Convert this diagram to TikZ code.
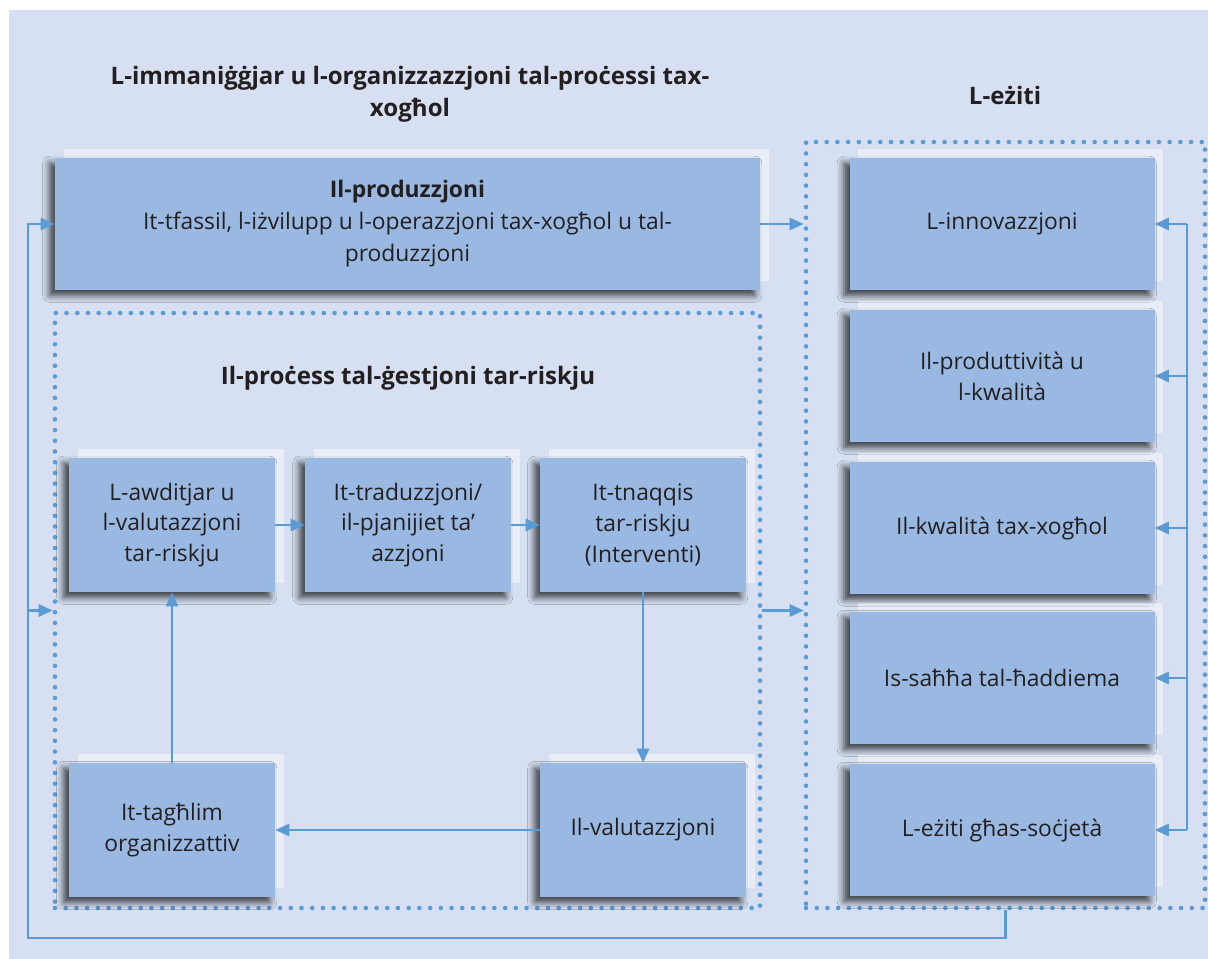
\documentclass[tikz,border=0pt]{standalone}
\usepackage{fontspec}
\setmainfont{Open Sans}
\usetikzlibrary{arrows.meta, shadows, shadows.blur}

\definecolor{panelbg}{RGB}{214,224,242}
\definecolor{boxfill}{RGB}{154,185,226}
\definecolor{linkblue}{RGB}{91,155,213}
\definecolor{inkgray}{RGB}{35,31,32}
\newlength\unitpx
\setlength\unitpx{0.02cm}

\tikzset{
  stage/.style={fill=boxfill, text=inkgray, align=center, inner sep=0pt,
    font=\fontsize{13}{17.5}\selectfont,
    drop shadow={fill=white, opacity=0.45, shadow xshift=5pt, shadow yshift=5pt},
    blur shadow={shadow xshift=-3pt, shadow yshift=-3pt, shadow blur radius=4pt, shadow opacity=75}},
  small/.style={stage, minimum width=206*\unitpx, minimum height=134*\unitpx},
  wide/.style={stage, minimum width=305*\unitpx, minimum height=132*\unitpx},
  heading/.style={text=inkgray, align=center, font=\bfseries\fontsize{13.7}{18.2}\selectfont},
  dotframe/.style={draw=linkblue, line width=2.6pt, line cap=round, dash pattern=on 0pt off 6.1pt, inner sep=0pt},
  link/.style={draw=linkblue, line width=1.2pt, -{Triangle[length=8pt, width=7pt]}},
  linkline/.style={draw=linkblue, line width=1.2pt}
}

\begin{document}
\begin{tikzpicture}[x=0.02cm, y=-0.02cm]
	\useasboundingbox (0,0) rectangle (1208,959);
	\fill[panelbg] (9,10) rectangle (1208,959);

	\node[heading] (mgmt) at (410,94) {L-immaniġġjar u l-organizzazzjoni tal-proċessi tax-\\xogħol};
	\node[heading] (outc) at (1005,95) {L-eżiti};

	\node[dotframe, minimum width=705*\unitpx, minimum height=595*\unitpx] (riskframe) at (407.5,610.5) {};
	\node[dotframe, minimum width=399*\unitpx, minimum height=766*\unitpx] (eziti) at (1005.5,525) {};
	\node[heading] (risktitle) at (408,378) {Il-proċess tal-ġestjoni tar-riskju};

	\node[stage, minimum width=705*\unitpx, minimum height=132*\unitpx, font=\fontsize{13}{18.2}\selectfont] (prod) at (407.5,224)
		{\textbf{Il-produzzjoni}\\It-tfassil, l-iżvilupp u l-operazzjoni tax-xogħol u tal-\\produzzjoni};

	\node[small] (audit) at (172,525) {L-awditjar u\\l-valutazzjoni\\tar-riskju};
	\node[small] (trad) at (408,525) {It-traduzzjoni/\\il-pjanijiet ta’\\azzjoni};
	\node[small] (tnaq) at (643,525) {It-tnaqqis\\tar-riskju\\(Interventi)};
	\node[small] (tagh) at (172,830) {It-tagħlim\\organizzattiv};
	\node[small] (valut) at (643,830) {Il-valutazzjoni};

	\node[wide] (inno) at (1002,224) {L-innovazzjoni};
	\node[wide] (prodq) at (1002,376) {Il-produttività u\\l-kwalità};
	\node[wide] (kwal) at (1002,528) {Il-kwalità tax-xogħol};
	\node[wide] (sahha) at (1002,678) {Is-saħħa tal-ħaddiema};
	\node[wide] (soc) at (1002,830) {L-eżiti għas-soċjetà};

	\draw[link] (audit) -- (trad);
	\draw[link] (trad) -- (tnaq);
	\draw[link] (tnaq) -- (valut);
	\draw[link] (valut) -- (tagh);
	\draw[link] (tagh) -- (audit);

	\draw[link] (prod.east) -- (prod.east -| eziti.west);
	\draw[link] (riskframe.east) -- (riskframe.east -| eziti.west);

	\coordinate (fb) at (1187,0);
	\draw[linkline] (inno.east -| fb) -- (soc.east -| fb);
	\foreach \n in {inno, prodq, kwal, sahha, soc}
		\draw[link] (\n.east -| fb) -- (\n.east);

	\coordinate (corner) at (28,938);
	\draw[link] (eziti.south) |- (corner) |- (prod.west);
	\draw[link] (corner |- riskframe.west) -- (riskframe.west);
\end{tikzpicture}
\end{document}
